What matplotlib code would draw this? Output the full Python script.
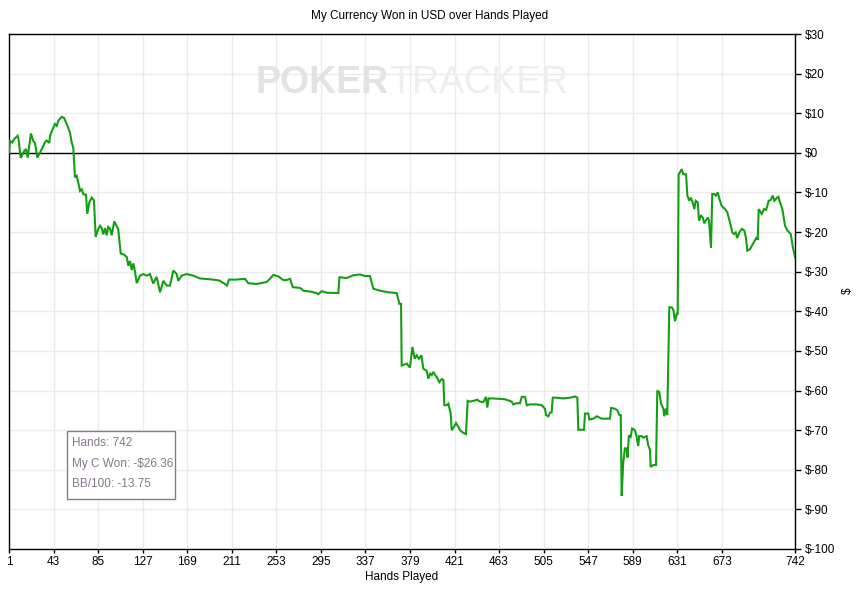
import matplotlib
matplotlib.use("Agg")
import matplotlib.pyplot as plt
from matplotlib.patches import Rectangle
from matplotlib.ticker import FixedLocator, FuncFormatter

# ---- data ----
hands = [1, 2, 4, 6, 9, 10, 12, 14, 15, 17, 18.6, 21.7, 23.9, 25.5, 27.7, 30.2, 34.9, 36.5, 39, 39.7,
         42.8, 44.4, 46, 47.5, 50.7, 52.9, 55.4, 58.5, 60.1, 61.6, 63.2, 64.8, 66.3, 67.9, 69.5, 71,
         73.6, 74.8, 76.7, 79, 81.1, 82.7, 85.2, 86.8, 88.4, 89.9, 91.5, 93.1, 94.6, 96.2, 97.8, 100.3,
         104, 106.3, 109.4, 112, 113.5, 115.1, 116.7, 118.2, 119.8, 121.4, 124.5, 127.6, 130.8, 133.9,
         137, 140.2, 143.4, 146.5, 149.7, 152.8, 155.9, 159.1, 160.6, 163.8, 168.5, 174.8, 181,
         193.6, 199, 204.6, 206.5, 208.4, 215, 223.5, 226.6, 234.5, 243.9, 247, 250.2, 254.9, 259.6,
         262.8, 265.9, 268.5, 275.4, 278.5, 284.8, 291, 292.6, 295.8, 300.5, 311.5, 312.5, 319.4,
         325.6, 332, 336.6, 341.3, 344.5, 350.8, 358.6, 366.5, 369, 370.6, 371.2, 375.9, 379, 381.3,
         383.5, 385.3, 387.5, 389.8, 391.6, 394.8, 396.3, 398.1, 399.6, 401.1, 402.7, 404.3, 406.7,
         409, 410.5, 411.4, 413.7, 415.2, 417.4, 418.4, 420.5, 422.4, 424.6, 426.2, 429.3, 431.8,
         433.4, 435.6, 440.3, 442.5, 445, 448.2, 450.7, 451.9, 453.2, 457.6, 463.9, 468.6, 474.9,
         476.4, 479.6, 482.8, 484.4, 487.5, 489.1, 492.2, 498.5, 503.2, 506.3, 507.3, 509.4, 511,
         512.6, 513.6, 517.4, 523.6, 529.9, 534.6, 536.8, 537.7, 543.1, 544, 547.1, 548.1, 551.9,
         555.1, 559.8, 567.6, 568.6, 572.3, 574.5, 576.4, 577.7, 578.6, 580, 581.6, 583.2, 584.1,
         585.4, 587, 588.5, 591, 592.6, 594.2, 595.1, 597.4, 598.9, 602.1, 603.6, 605.3, 605.9,
         608.4, 611, 612.2, 614.1, 615.7, 617.9, 618.8, 620.1, 621.6, 623.5, 625.8, 627.3, 628.9,
         630.5, 631.4, 632.3, 633.6, 635.2, 636.7, 639.3, 640.5, 642.4, 643.7, 645.6, 647.1, 648.4,
         650.3, 651.5, 653.4, 655, 656.5, 658.1, 659.7, 660.9, 662.8, 664, 665.9, 667.5, 669.1,
         671.3, 672.9, 676, 678.2, 680.7, 682.9, 684.5, 686.1, 687.6, 689.5, 691.8, 694.2, 695.8,
         697.1, 699.6, 705.9, 706.8, 707.8, 710.6, 712.8, 714.7, 715.9, 717.2, 719.1, 721, 722.6,
         724.8, 726.3, 727.9, 730.1, 732.6, 734.8, 738, 739.9, 742]
won = [0, 3, 2.6, 3.5, 4.3, 3.5, -1.3, -0.3, 0.3, 1.0, -1.2, 4.9, 3, 2.5, -1.2, 0, 2.7, 3.1, 2.5, 4.3,
       6.4, 7.3, 6.8, 8.1, 9.1, 8.8, 7.3, 5.1, 2.6, 1.3, -6.2, -5.8, -7.5, -9.6, -9.2, -10.4,
       -10.6, -15.4, -12.5, -11.3, -12, -21.2, -19.2, -18.4, -19, -20.6, -19, -20.8, -18.7, -19.1, -20.8, -17.3,
       -19.3, -25.4, -25.7, -26.3, -28.5, -27.3, -29.6, -27.9, -30, -32.9, -31, -30.6, -31, -30.6,
       -33, -31.3, -35.2, -32.3, -33.5, -33.5, -29.7, -30.6, -32.3, -31, -30.6, -31, -31.7,
       -32, -32.2, -33.1, -33.5, -32, -32, -31.8, -32.9, -33.1, -32.6, -31.8, -30.8, -31.2, -32.1,
       -32.1, -31.8, -33.9, -34.1, -34.8, -35, -35.4, -35.7, -34.9, -35.3, -35.4, -31.4, -31.6,
       -30.9, -30.7, -31.1, -31.1, -34.3, -34.8, -35.2, -35.4, -38.1, -38.1, -53.7, -53.2, -54.2, -49,
       -52, -51.1, -52, -51.1, -54.5, -55, -57, -55.7, -56.1, -55.3, -56.1, -56.6, -57.9,
       -57.1, -57.3, -63.7, -63.7, -63.3, -65.8, -70, -69.2, -68.2, -69.2, -70, -70.7, -71,
       -62.6, -62.8, -62.5, -62.3, -62.8, -62.9, -61.6, -64.3, -62, -62, -62.1, -62.2, -62.8,
       -63.5, -63.2, -63.2, -61.6, -61.6, -63.7, -63.5, -63.5, -63.7, -64.6, -66.2, -66.5, -65.6,
       -65.5, -61.8, -61.8, -62, -61.8, -61.5, -61.8, -69.9, -69.9, -65.8, -65.8, -67.3, -67.1,
       -66.5, -67.1, -67.1, -64.4, -64.6, -65, -66.2, -66.2, -86.6, -78.4, -74.6, -74.6, -76.9,
       -71.3, -71.7, -69.6, -70, -71.5, -74, -71.5, -71.5, -71.9, -71.5, -73.8, -75, -79.3,
       -78.8, -78.8, -60, -60.4, -63.3, -64.6, -66.5, -64.6, -66.2, -39, -39, -39.6, -42.5,
       -40.6, -40.6, -5.4, -4.9, -4.1, -5.4, -5.4, -10.8, -12.1, -11.3, -12.5, -14.2, -12.1,
       -12.5, -17.1, -15.9, -16.3, -17.8, -17, -16.3, -17, -24, -10.4, -10.4, -10.8, -10,
       -12.1, -13.4, -14.2, -15, -17.6, -20.1, -20.5, -20.1, -21.5, -20.1, -19.2, -19.6, -21.5,
       -24.7, -24.3, -21.3, -22, -14.2, -15.4, -14.2, -14.4, -13.4, -12.1, -11.9, -10.8, -12.1,
       -11.4, -11.1, -12.5, -14.2, -18.4, -19.6, -20.5, -23.7, -26.36]

x_ticks = [1, 43, 85, 127, 169, 211, 253, 295, 337, 379, 421, 463, 505, 547, 589, 631, 673, 742]
y_ticks = [30, 20, 10, 0, -10, -20, -30, -40, -50, -60, -70, -80, -90, -100]
title = "My Currency Won in USD over Hands Played"
x_label = "Hands Played"
y_label = "$"
info_lines = ["Hands: 742", "My C Won: -$26.36", "BB/100: -13.75"]

# ---- figure ----
W, H = 859, 590
fig = plt.figure(figsize=(W / 100, H / 100), dpi=100)
fig.patch.set_facecolor("white")
L, R, T, B = 9, 795, 34, 549
ax = fig.add_axes([L / W, 1 - B / H, (R - L) / W, (B - T) / H])

font = "Liberation Sans"

ax.plot(hands, won, color="#12a012", lw=1.5, zorder=3, solid_joinstyle="miter")
ax.axhline(0, color="black", lw=1.0, zorder=2)

ax.set_xlim(1, 742)
ax.set_ylim(-100, 30)
ax.xaxis.set_major_locator(FixedLocator(x_ticks))
ax.yaxis.set_major_locator(FixedLocator(y_ticks))
ax.yaxis.set_major_formatter(FuncFormatter(lambda v, p: f"${int(round(v))}"))
ax.yaxis.tick_right()
ax.yaxis.set_label_position("right")
ax.grid(True, color="#ebebeb", lw=1.0, zorder=0)
ax.set_axisbelow(True)
for s in ax.spines.values():
    s.set_color("black")
    s.set_linewidth(1.0)
ax.tick_params(axis="x", direction="out", length=3, width=1, pad=2, labelsize=8.5, colors="black")
ax.tick_params(axis="y", direction="out", length=4, width=1, pad=3, labelsize=8.5, colors="black")
for lab in ax.get_xticklabels() + ax.get_yticklabels():
    lab.set_fontfamily(font)

ax.set_xlabel(x_label, fontsize=8.5, fontfamily=font, labelpad=2)
fig.text(848 / W, 1 - 291 / H, y_label, ha="center", va="center", rotation=90,
         fontsize=8.5, fontfamily=font)
fig.text(0.5, 1 - 16 / H, title, ha="center", va="center", fontsize=8.5, fontfamily=font)

# watermark
fig.text(389 / W, 1 - 83 / H, "POKER", ha="right", va="center", fontsize=27,
         fontweight="bold", fontfamily=font, color="#e3e3e3", zorder=1)
fig.text(389 / W, 1 - 83 / H, "TRACKER", ha="left", va="center", fontsize=27,
         fontfamily=font, color="#eeeeee", zorder=1)

# info box
bx0, by0, bx1, by1 = 66.5, 431, 175, 498.5
fig.add_artist(Rectangle((bx0 / W, 1 - by1 / H), (bx1 - bx0) / W, (by1 - by0) / H,
                         transform=fig.transFigure, facecolor="white", edgecolor="#808080",
                         lw=1.0, zorder=5))
for i, line in enumerate(info_lines):
    fig.text(71.5 / W, 1 - (443 + i * 20.5) / H, line, ha="left", va="center",
             fontsize=8.5, fontfamily=font, color="#86768a", zorder=6)

fig.savefig("out.png", dpi=100, facecolor="white")
